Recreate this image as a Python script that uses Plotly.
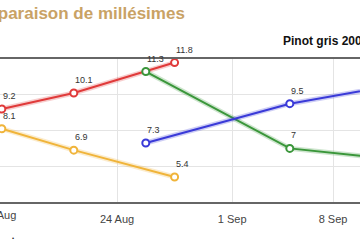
import plotly.graph_objects as go

# --- data ---
red_dates = ["2009-08-16", "2009-08-21", "2009-08-28"]
red_values = [9.2, 10.1, 11.8]
yellow_dates = ["2009-08-16", "2009-08-21", "2009-08-28"]
yellow_values = [8.1, 6.9, 5.4]
green_dates = ["2009-08-26", "2009-09-05", "2009-09-12"]
green_values = [11.3, 7.0, 6.4]
blue_dates = ["2009-08-26", "2009-09-05", "2009-09-12"]
blue_values = [7.3, 9.5, 10.5]
tick_dates = ["2009-08-24", "2009-09-01", "2009-09-08"]
tick_labels = ["24 Aug", "1 Sep", "8 Sep"]
edge_label = "17 Aug"

series = [
    (red_dates, red_values, "#e03a3a", "rgba(224,58,58,0.25)"),
    (yellow_dates, yellow_values, "#f0b43a", "rgba(240,180,58,0.25)"),
    (green_dates, green_values, "#3a963a", "rgba(58,150,58,0.25)"),
    (blue_dates, blue_values, "#3a3ad8", "rgba(58,58,216,0.25)"),
]

PH = 240 - 59 - 38  # plot area height in px

fig = go.Figure()
annotations = []
for dates, vals, col, glow in series:
    fig.add_trace(go.Scatter(x=dates, y=vals, mode="lines", line=dict(color=glow, width=5),
                             hoverinfo="skip", showlegend=False))
    fig.add_trace(go.Scatter(x=dates, y=vals, mode="lines+markers",
                             line=dict(color=col, width=2),
                             marker=dict(size=7, color="white", line=dict(color=col, width=2)),
                             showlegend=False))
    for d, v in zip(dates, vals):
        annotations.append(dict(x=d, y=v, xref="x", yref="y", text=("%g" % v),
                                showarrow=False, xanchor="left", yanchor="bottom",
                                xshift=-1, yshift=6,
                                font=dict(family="Liberation Sans, Arial", size=9, color="#333333")))

annotations.append(dict(x=187 / 360, y=1 + 34 / PH, xref="paper", yref="paper",
                        text="<b>Comparaison de millésimes</b>", showarrow=False,
                        xanchor="right", yanchor="bottom",
                        font=dict(family="Liberation Sans, Arial", size=17, color="#c9a265")))
annotations.append(dict(x=281 / 360, y=1 + 9 / PH, xref="paper", yref="paper",
                        text="<b>Pinot gris 2009</b>", showarrow=False,
                        xanchor="left", yanchor="bottom",
                        font=dict(family="Liberation Sans, Arial", size=12, color="#111111")))
annotations.append(dict(x=-1 / 360, y=-13 / PH, xref="paper", yref="paper",
                        text=edge_label, showarrow=False,
                        xanchor="center", yanchor="middle",
                        font=dict(family="Liberation Sans, Arial", size=11, color="#444444")))
annotations.append(dict(x=13 / 360, y=-36 / PH, xref="paper", yref="paper",
                        text="•", showarrow=False,
                        xanchor="center", yanchor="middle",
                        font=dict(family="Liberation Sans, Arial", size=6, color="#222222")))

fig.update_layout(
    width=360, height=240,
    margin=dict(l=0, r=0, t=59, b=38),
    paper_bgcolor="white", plot_bgcolor="white",
    annotations=annotations,
    xaxis=dict(type="date", range=["2009-08-15 21:00", "2009-09-09 21:00"],
               tickvals=tick_dates, ticktext=tick_labels,
               showgrid=True, gridcolor="#e4e4e4", gridwidth=1,
               showline=True, linecolor="#666666", linewidth=2, mirror=True,
               ticks="", ticklabelstandoff=6,
               tickfont=dict(family="Liberation Sans, Arial", size=11, color="#444444"),
               zeroline=False),
    yaxis=dict(range=[4, 12], dtick=2, showgrid=True, gridcolor="#e4e4e4",
               showticklabels=False, zeroline=False, showline=False),
)

fig.write_html("out.html")
